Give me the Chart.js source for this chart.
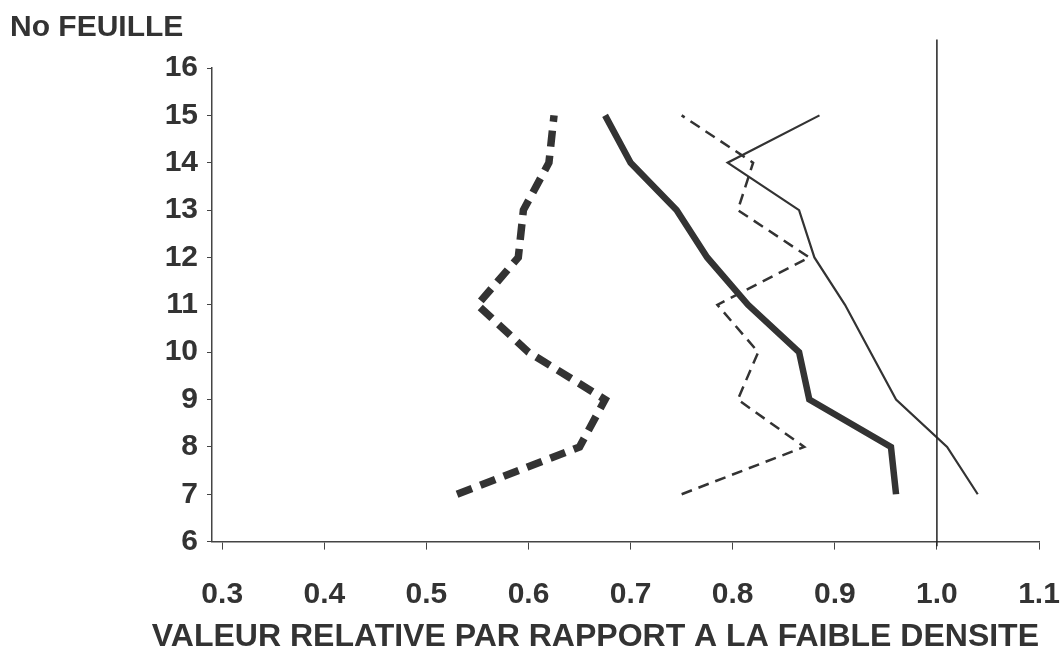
<!DOCTYPE html>
<html>
<head>
<meta charset="utf-8">
<script src="https://cdn.jsdelivr.net/npm/chart.js@4.4.0/dist/chart.umd.min.js"></script>
<style>
  html, body { margin: 0; padding: 0; background: #fff; }
  #wrap { width: 1064px; height: 661px; position: relative; }
</style>
</head>
<body>
<div id="wrap"><canvas id="c" width="1064" height="661"></canvas></div>
<script>
// Leaf numbers (y)
const leaves = [7, 8, 9, 10, 11, 12, 13, 14, 15];
// Relative values (x) for each series
const thickDashed = [0.53, 0.65, 0.675, 0.60, 0.55, 0.59, 0.595, 0.62, 0.625];
const thickSolid  = [0.96, 0.955, 0.875, 0.865, 0.815, 0.775, 0.745, 0.70, 0.675];
const thinDashed  = [0.75, 0.87, 0.805, 0.825, 0.785, 0.875, 0.805, 0.82, 0.75];
const thinSolid   = [1.04, 1.01, 0.96, 0.935, 0.91, 0.88, 0.865, 0.795, 0.885];
// Reference line at 1.0
const refX = 1.0;
const refY = [5.9, 16.6];
const xTicks = [0.3, 0.4, 0.5, 0.6, 0.7, 0.8, 0.9, 1.0, 1.1];
const yTicks = [6, 7, 8, 9, 10, 11, 12, 13, 14, 15, 16];
const yTitle = 'No FEUILLE';
const xTitle = 'VALEUR RELATIVE PAR RAPPORT A LA FAIBLE DENSITE';

const ink = '#333333';
const FONT = "'Liberation Sans', Arial, Helvetica, sans-serif";
const pts = vals => vals.map((v, i) => ({ x: v, y: leaves[i] }));

const base = { showLine: true, pointRadius: 0, tension: 0, borderColor: ink, borderCapStyle: 'butt', borderJoinStyle: 'miter', fill: false };

new Chart(document.getElementById('c'), {
  type: 'scatter',
  data: {
    datasets: [
      Object.assign({}, base, { label: 'ref', data: refY.map(y => ({ x: refX, y })), borderWidth: 1.5, borderColor: '#222', clip: false }),
      Object.assign({}, base, { label: 'A', data: pts(thickDashed), borderWidth: 7.5, borderDash: [16, 9] }),
      Object.assign({}, base, { label: 'B', data: pts(thickSolid), borderWidth: 6.5 }),
      Object.assign({}, base, { label: 'C', data: pts(thinDashed), borderWidth: 2.5, borderDash: [11, 7] }),
      Object.assign({}, base, { label: 'D', data: pts(thinSolid), borderWidth: 2.2 })
    ]
  },
  options: {
    responsive: false,
    animation: false,
    layout: { padding: { left: 10, right: 25, top: 0, bottom: 0 } },
    plugins: {
      legend: { display: false },
      tooltip: { enabled: false },
      title: {
        display: true, text: yTitle, align: 'start', color: ink,
        font: { family: FONT, size: 30, weight: 'bold' },
        padding: { top: 10, bottom: 22 }
      },
      subtitle: {
        display: true, position: 'bottom', text: xTitle, align: 'end', color: ink,
        font: { family: FONT, size: 32, weight: 'bold' },
        padding: { top: 0, bottom: 5 }
      }
    },
    scales: {
      x: {
        type: 'linear', min: 0.29, max: 1.1,
        afterBuildTicks: s => { s.ticks = xTicks.map(v => ({ value: v })); },
        afterFit: s => { s.height = 76; s.paddingLeft = 0; s.paddingRight = 0; },
        ticks: {
          color: ink, padding: 27, autoSkip: false, maxRotation: 0,
          font: { family: FONT, size: 30, weight: 'bold' },
          callback: v => Number(v).toFixed(1)
        },
        grid: { drawOnChartArea: false, drawTicks: true, tickLength: 8, color: '#444' },
        border: { display: true, color: '#444', width: 1.5 }
      },
      y: {
        type: 'linear', min: 6, max: 16,
        afterBuildTicks: s => { s.ticks = yTicks.map(v => ({ value: v })); },
        afterFit: s => { s.width = 202; },
        ticks: {
          color: ink, padding: 9, autoSkip: false,
          font: { family: FONT, size: 30, weight: 'bold' }
        },
        grid: { drawOnChartArea: false, drawTicks: true, tickLength: 5, color: '#444' },
        border: { display: true, color: '#444', width: 1.5 }
      }
    }
  }
});
</script>
</body>
</html>
